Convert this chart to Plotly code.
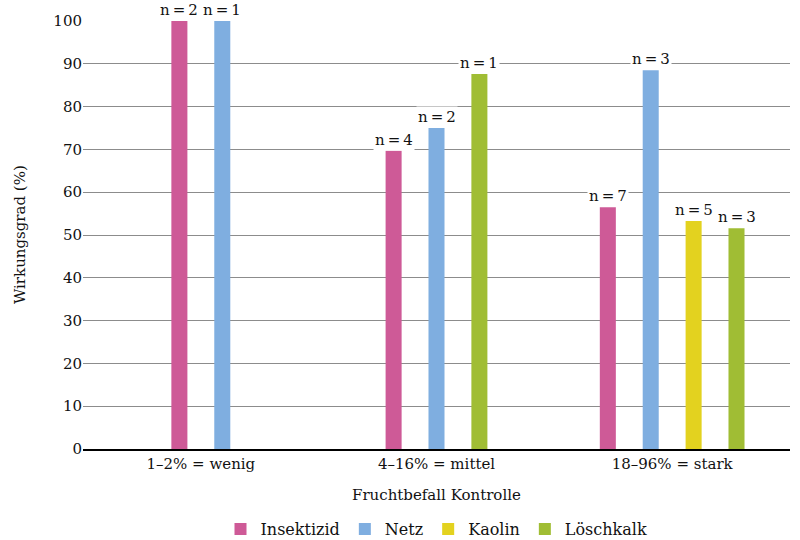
import plotly.graph_objects as go

categories = ["1–2% = wenig", "4–16% = mittel", "18–96% = stark"]
series_names = ["Insektizid", "Netz", "Kaolin", "Löschkalk"]
insektizid = [100, 69.7, 56.5]
netz = [100, 75.0, 88.5]
kaolin = [None, None, 53.3]
loeschkalk = [None, 87.6, 51.6]
n_insektizid = [2, 4, 7]
n_netz = [1, 2, 3]
n_kaolin = [None, None, 5]
n_loeschkalk = [None, 1, 3]
colors = ["#CE5A97", "#7FAEE0", "#E3D21F", "#A0BD34"]

values = [insektizid, netz, kaolin, loeschkalk]
counts = [n_insektizid, n_netz, n_kaolin, n_loeschkalk]

FONT = "DejaVu Serif"
TXT = "#111111"
spacing = 0.182
bar_w = 0.068

# positions: bars within each category are centred over the present series
positions = [[None] * len(categories) for _ in series_names]
for ci in range(len(categories)):
    present = [si for si in range(len(series_names)) if values[si][ci] is not None]
    n = len(present)
    for k, si in enumerate(present):
        positions[si][ci] = ci + (k - (n - 1) / 2) * spacing

fig = go.Figure()
annotations = []
for si, name in enumerate(series_names):
    xs = [positions[si][ci] for ci in range(len(categories)) if values[si][ci] is not None]
    ys = [values[si][ci] for ci in range(len(categories)) if values[si][ci] is not None]
    ns = [counts[si][ci] for ci in range(len(categories)) if values[si][ci] is not None]
    fig.add_trace(go.Bar(x=xs, y=ys, name=name, width=bar_w,
                         marker=dict(color=colors[si], line=dict(width=0))))
    for x, y, n in zip(xs, ys, ns):
        annotations.append(dict(x=x, y=y, xref="x", yref="y", text=f"n\u2009=\u2009{n}",
                                showarrow=False, yanchor="bottom", yshift=0,
                                bgcolor="white", borderpad=1,
                                font=dict(family=FONT, size=15, color=TXT)))

annotations.append(dict(x=0.5, y=-0.108, xref="paper", yref="paper",
                        text="Fruchtbefall Kontrolle", showarrow=False,
                        yanchor="middle", font=dict(family=FONT, size=15, color=TXT)))
annotations.append(dict(x=-0.089, y=0.5, xref="paper", yref="paper",
                        text="Wirkungsgrad (%)", showarrow=False, textangle=-90,
                        xanchor="center", yanchor="middle",
                        font=dict(family=FONT, size=15, color=TXT)))

fig.update_layout(
    width=800, height=540,
    margin=dict(l=83, r=10, t=21, b=91, autoexpand=False),
    paper_bgcolor="white", plot_bgcolor="white",
    barmode="overlay",
    showlegend=True,
    legend=dict(orientation="h", x=0.5, xanchor="center", y=-0.187, yanchor="middle",
                font=dict(family=FONT, size=16, color=TXT),
                itemsizing="constant", tracegroupgap=0),
    annotations=annotations,
    xaxis=dict(type="linear", range=[-0.5, 2.5], tickvals=list(range(len(categories))),
               ticktext=categories, showgrid=False, zeroline=False,
               showline=True, linecolor="black", linewidth=2, ticks="",
               tickfont=dict(family=FONT, size=15, color=TXT)),
    yaxis=dict(range=[0, 100], dtick=10, showgrid=True, gridcolor="#8c8c8c", gridwidth=1,
               zeroline=False, showline=False, ticks="", ticklen=0,
               tickfont=dict(family=FONT, size=15, color=TXT)),
)

fig.write_html("out.html")
